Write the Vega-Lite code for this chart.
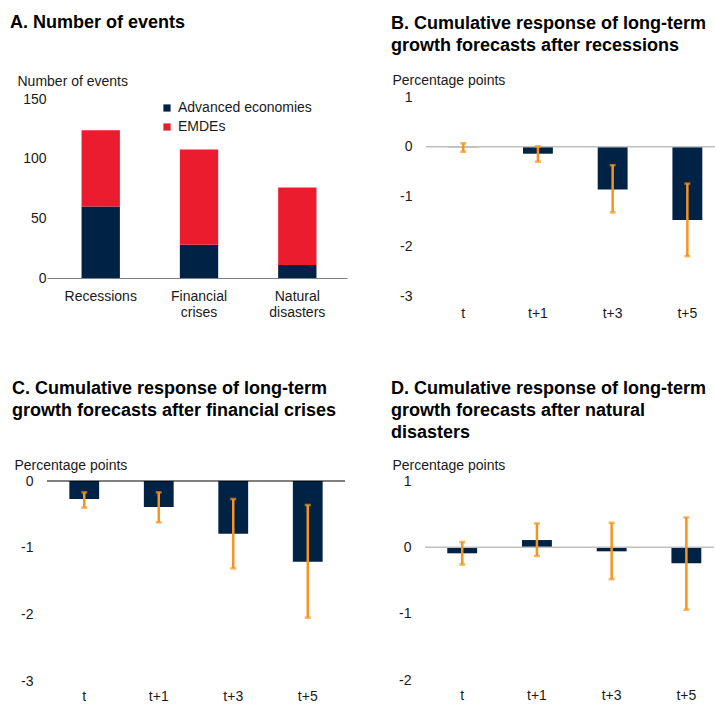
{
  "$schema": "https://vega.github.io/schema/vega-lite/v6.json",
  "padding": {"left": 10, "top": 13, "right": 0, "bottom": 0},
  "config": {
    "font": "Liberation Sans",
    "view": {"stroke": null},
    "axis": {"labelFontSize": 14, "labelColor": "#1a1a1a", "titleFontSize": 14, "titleFontWeight": "normal", "titleColor": "#1a1a1a", "grid": false, "ticks": false},
    "title": {"fontSize": 18, "fontWeight": "bold", "color": "#000000", "lineHeight": 22, "anchor": "start", "frame": "group"}
  },
  "datasets": {
    "events": [
      {"type": "Recessions", "group": "Advanced economies", "n": 60},
      {"type": "Recessions", "group": "EMDEs", "n": 64},
      {"type": "Financial crises", "group": "Advanced economies", "n": 28},
      {"type": "Financial crises", "group": "EMDEs", "n": 80},
      {"type": "Natural disasters", "group": "Advanced economies", "n": 11},
      {"type": "Natural disasters", "group": "EMDEs", "n": 65}
    ],
    "recessions": [
      {"h": "t", "est": -0.01, "lo": -0.10, "hi": 0.07},
      {"h": "t+1", "est": -0.14, "lo": -0.30, "hi": 0.01},
      {"h": "t+3", "est": -0.86, "lo": -1.32, "hi": -0.37},
      {"h": "t+5", "est": -1.47, "lo": -2.20, "hi": -0.74}
    ],
    "financial": [
      {"h": "t", "est": -0.27, "lo": -0.40, "hi": -0.17},
      {"h": "t+1", "est": -0.39, "lo": -0.62, "hi": -0.17},
      {"h": "t+3", "est": -0.79, "lo": -1.31, "hi": -0.27},
      {"h": "t+5", "est": -1.21, "lo": -2.05, "hi": -0.36}
    ],
    "natural": [
      {"h": "t", "est": -0.09, "lo": -0.26, "hi": 0.08},
      {"h": "t+1", "est": 0.11, "lo": -0.13, "hi": 0.36},
      {"h": "t+3", "est": -0.06, "lo": -0.48, "hi": 0.37},
      {"h": "t+5", "est": -0.24, "lo": -0.94, "hi": 0.45}
    ]
  },
  "spacing": 59,
  "vconcat": [
    {
      "hconcat": [
        {
          "width": 300, "height": 181,
          "title": {"text": "A. Number of events", "dx": -37, "offset": 42.5},
          "data": {"name": "events"},
          "mark": {"type": "bar"},
          "encoding": {
            "x": {"field": "type", "type": "nominal", "sort": ["Recessions", "Financial crises", "Natural disasters"],
                  "scale": {"paddingInner": 0.61, "paddingOuter": 0.331, "align": 0.531},
                  "axis": {"title": null, "labelAngle": 0, "domain": true, "domainColor": "#808080", "domainWidth": 1.2, "labelPadding": 11, "labelLineHeight": 16.5, "labelExpr": "split(datum.label, ' ')"}},
            "y": {"field": "n", "type": "quantitative", "stack": "zero",
                  "scale": {"domain": [0, 152], "nice": false},
                  "axis": {"title": "Number of events", "titleAngle": 0, "titleAlign": "left", "titleBaseline": "alphabetic", "titleX": -30, "titleY": -12, "values": [0, 50, 100, 150], "domain": false, "labelPadding": 1}},
            "color": {"field": "group", "type": "nominal",
                      "scale": {"domain": ["Advanced economies", "EMDEs"], "range": ["#002244", "#EB1C2D"]},
                      "legend": {"title": null, "orient": "none", "legendX": 113, "legendY": 4, "symbolType": "square", "symbolSize": 52, "symbolStrokeWidth": 0, "labelFontSize": 14, "labelColor": "#1a1a1a", "labelOffset": 4, "rowPadding": 5, "padding": 0}},
            "order": {"field": "group", "sort": "ascending"}
          }
        },
        {
          "width": 289, "height": 199,
          "title": {"text": ["B. Cumulative response of long-term", "growth forecasts after recessions"], "dx": -35, "offset": 18.5},
          "data": {"name": "recessions"},
          "layer": [
            {
              "mark": {"type": "bar", "color": "#002244"},
              "encoding": {
                "x": {"field": "h", "type": "nominal", "sort": ["t", "t+1", "t+3", "t+5"],
                      "scale": {"paddingInner": 0.6, "paddingOuter": 0.234, "align": 0.637},
                      "axis": {"title": null, "labelAngle": 0, "domain": false, "labelPadding": 10}},
                "y": {"field": "est", "type": "quantitative", "title": "Percentage points", "scale": {"domain": [-3, 1], "nice": false},
                      "axis": {"titleAngle": 0, "titleAlign": "left", "titleBaseline": "alphabetic", "titleX": -34, "titleY": -13, "values": [-3, -2, -1, 0, 1], "labelExpr": "'' + datum.value", "domain": false, "labelPadding": 14}}
              }
            },
            {
              "data": {"values": [{"z": 0}]},
              "mark": {"type": "rule", "color": "#BFBFBF", "strokeWidth": 1.5},
              "encoding": {"y": {"field": "z", "type": "quantitative", "title": "Percentage points", "scale": {"domain": [-3, 1], "nice": false}}}
            },
            {
              "mark": {"type": "errorbar", "color": "#F7941E", "thickness": 2.5, "ticks": {"size": 6, "thickness": 2.5, "color": "#F7941E"}, "rule": {"color": "#F7941E", "strokeWidth": 2.5}},
              "encoding": {
                "x": {"field": "h", "type": "nominal", "sort": ["t", "t+1", "t+3", "t+5"]},
                "y": {"field": "lo", "type": "quantitative", "title": "Percentage points", "scale": {"domain": [-3, 1], "nice": false}},
                "y2": {"field": "hi"}
              }
            }
          ]
        }
      ],
      "spacing": 79,
      "bounds": "flush"
    },
    {
      "hconcat": [
        {
          "width": 298, "height": 200,
          "title": {"text": ["C. Cumulative response of long-term", "growth forecasts after financial crises"], "dx": -35, "offset": 38.5},
          "data": {"name": "financial"},
          "layer": [
            {
              "mark": {"type": "bar", "color": "#002244"},
              "encoding": {
                "x": {"field": "h", "type": "nominal", "sort": ["t", "t+1", "t+3", "t+5"],
                      "scale": {"paddingInner": 0.6, "paddingOuter": 0.3},
                      "axis": {"title": null, "labelAngle": 0, "domain": false, "labelPadding": 8}},
                "y": {"field": "est", "type": "quantitative", "title": "Percentage points", "scale": {"domain": [-3, 0], "nice": false},
                      "axis": {"titleAngle": 0, "titleAlign": "left", "titleBaseline": "alphabetic", "titleX": -33, "titleY": -12, "values": [-3, -2, -1, 0], "labelExpr": "'' + datum.value", "domain": false, "labelPadding": 14}}
              }
            },
            {
              "data": {"values": [{"z": 0}]},
              "mark": {"type": "rule", "color": "#000000", "strokeWidth": 1.2},
              "encoding": {"y": {"field": "z", "type": "quantitative", "title": "Percentage points", "scale": {"domain": [-3, 0], "nice": false}}}
            },
            {
              "mark": {"type": "errorbar", "color": "#F7941E", "thickness": 2.5, "ticks": {"size": 6, "thickness": 2.5, "color": "#F7941E"}, "rule": {"color": "#F7941E", "strokeWidth": 2.5}},
              "encoding": {
                "x": {"field": "h", "type": "nominal", "sort": ["t", "t+1", "t+3", "t+5"]},
                "y": {"field": "lo", "type": "quantitative", "title": "Percentage points", "scale": {"domain": [-3, 0], "nice": false}},
                "y2": {"field": "hi"}
              }
            }
          ]
        },
        {
          "width": 289, "height": 199,
          "title": {"text": ["D. Cumulative response of long-term", "growth forecasts after natural", "disasters"], "dx": -34, "offset": 16.5},
          "data": {"name": "natural"},
          "layer": [
            {
              "mark": {"type": "bar", "color": "#002244"},
              "encoding": {
                "x": {"field": "h", "type": "nominal", "sort": ["t", "t+1", "t+3", "t+5"],
                      "scale": {"paddingInner": 0.6, "paddingOuter": 0.234, "align": 0.637},
                      "axis": {"title": null, "labelAngle": 0, "domain": false, "labelPadding": 8}},
                "y": {"field": "est", "type": "quantitative", "title": "Percentage points", "scale": {"domain": [-2, 1], "nice": false},
                      "axis": {"titleAngle": 0, "titleAlign": "left", "titleBaseline": "alphabetic", "titleX": -33, "titleY": -12, "values": [-2, -1, 0, 1], "labelExpr": "'' + datum.value", "domain": false, "labelPadding": 14}}
              }
            },
            {
              "data": {"values": [{"z": 0}]},
              "mark": {"type": "rule", "color": "#BFBFBF", "strokeWidth": 1.5},
              "encoding": {"y": {"field": "z", "type": "quantitative", "title": "Percentage points", "scale": {"domain": [-2, 1], "nice": false}}}
            },
            {
              "mark": {"type": "errorbar", "color": "#F7941E", "thickness": 2.5, "ticks": {"size": 6, "thickness": 2.5, "color": "#F7941E"}, "rule": {"color": "#F7941E", "strokeWidth": 2.5}},
              "encoding": {
                "x": {"field": "h", "type": "nominal", "sort": ["t", "t+1", "t+3", "t+5"]},
                "y": {"field": "lo", "type": "quantitative", "title": "Percentage points", "scale": {"domain": [-2, 1], "nice": false}},
                "y2": {"field": "hi"}
              }
            }
          ]
        }
      ],
      "spacing": 80,
      "bounds": "flush"
    }
  ]
}
